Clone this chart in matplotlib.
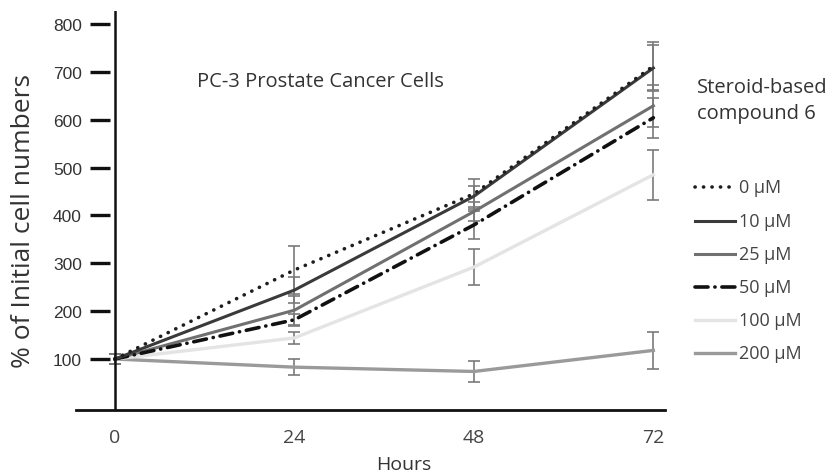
import matplotlib
matplotlib.use("Agg")
import matplotlib.pyplot as plt
from matplotlib.lines import Line2D

hours = [0, 24, 48, 72]
x_tick_labels = ["0", "24", "48", "72"]
y_ticks = [100, 200, 300, 400, 500, 600, 700, 800]

series_labels = ["0 µM", "10 µM", "25 µM", "50 µM", "100 µM", "200 µM"]
vals_0 = [100, 286, 445, 712]
vals_10 = [100, 244, 440, 708]
vals_25 = [100, 202, 408, 629]
vals_50 = [100, 182, 380, 604]
vals_100 = [100, 144, 292, 485]
vals_200 = [100, 83, 74, 118]

err_0 = [10, 50, 31, 50]
err_10 = [10, 28, 22, 48]
err_25 = [10, 30, 20, 44]
err_50 = [10, 12, 29, 42]
err_100 = [10, 12, 37, 52]
err_200 = [10, 16, 22, 38]

W, H = 829, 477
fig = plt.figure(figsize=(W / 100, H / 100), dpi=100)
ax = fig.add_axes([76 / W, (H - 411) / H, 588.6 / W, 399 / H])
ax.set_xlim(-5.2, 73.5)
ax.set_ylim(-6.5, 827)

styles = [
    dict(color="#1e1e1e", lw=2.6, ls=(0, (0.05, 2.3)), dash_capstyle="round"),
    dict(color="#3a3a3a", lw=2.2, ls="-"),
    dict(color="#707070", lw=2.2, ls="-"),
    dict(color="#111111", lw=2.6, ls=(0, (3.6, 1.9, 0.05, 1.9)), dash_capstyle="round"),
    dict(color="#e4e4e4", lw=2.4, ls="-"),
    dict(color="#9a9a9a", lw=2.4, ls="-"),
]
vals = [vals_0, vals_10, vals_25, vals_50, vals_100, vals_200]
errs = [err_0, err_10, err_25, err_50, err_100, err_200]

order = [5, 4, 2, 3, 1, 0]
for i in order:
    ax.errorbar(hours, vals[i], yerr=errs[i], fmt="none", ecolor="#7a7a7a",
                elinewidth=1.2, capsize=4, capthick=1.2, zorder=2)
for i in order:
    s = styles[i]
    ax.plot(hours, vals[i], color=s["color"], lw=s["lw"], linestyle=s["ls"],
            dash_capstyle=s.get("dash_capstyle", "butt"), zorder=3)

for sp in ["top", "right"]:
    ax.spines[sp].set_visible(False)
# ticks sit a few pixels left of the drawn y-axis line
ax.spines["left"].set_position(("data", -0.67))
ax.spines["left"].set_visible(False)
ax.axvline(0, color="#111111", lw=1.8, zorder=4)
ax.spines["bottom"].set_linewidth(2.0)
ax.spines["bottom"].set_color("#111111")

ax.set_yticks(y_ticks)
ax.set_yticklabels([str(v) for v in y_ticks], fontfamily="Liberation Sans",
                   fontsize=12.5, color="#333333")
ax.tick_params(axis="y", direction="out", length=14.4, width=2.4, color="#111111", pad=5.8)
ax.set_xticks(hours)
ax.set_xticklabels(x_tick_labels, fontfamily="Open Sans", fontsize=14, color="#444444")
ax.tick_params(axis="x", length=0, pad=13)

fig.text(404 / W, 1 - 465 / H, "Hours", ha="center", va="center",
         fontfamily="Open Sans", fontsize=14, color="#333333")
fig.text(24 / W, 1 - 221 / H, "% of Initial cell numbers", rotation=90, ha="center",
         va="center", fontfamily="Open Sans", fontsize=19, color="#333333")

fig.text(197 / W, 1 - 82 / H, "PC-3 Prostate Cancer Cells", ha="left", va="center",
         fontfamily="Open Sans", fontsize=14.5, color="#333333")

fig.text(697 / W, 1 - 88 / H, "Steroid-based", ha="left", va="center",
         fontfamily="Open Sans", fontsize=14.5, color="#333333")
fig.text(697 / W, 1 - 114 / H, "compound 6", ha="left", va="center",
         fontfamily="Open Sans", fontsize=14.5, color="#333333")

rows_y = [188, 222, 255, 288, 321, 354]
for i, ry in enumerate(rows_y):
    s = styles[i]
    fig.add_artist(Line2D([695 / W, 735 / W], [1 - ry / H, 1 - ry / H],
                          transform=fig.transFigure, color=s["color"], lw=s["lw"],
                          linestyle=s["ls"],
                          dash_capstyle=s.get("dash_capstyle", "butt")))
    fig.text(739 / W, 1 - ry / H, series_labels[i], ha="left", va="center",
             fontfamily="Open Sans", fontsize=13, color="#444444")

fig.savefig("out.png", dpi=100)
